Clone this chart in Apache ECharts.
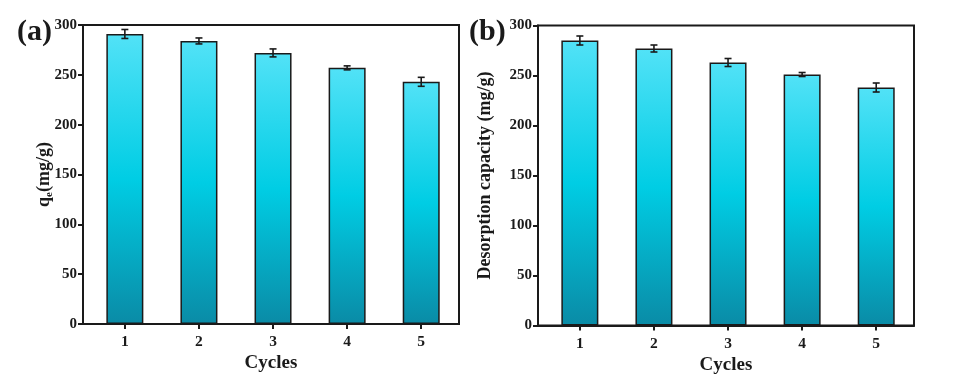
<!DOCTYPE html>
<html>
<head>
<meta charset="utf-8">
<script src="https://cdn.jsdelivr.net/npm/echarts@6/dist/echarts.min.js"></script>
<style>html,body{margin:0;padding:0;background:#fff;}#c{width:955px;height:383px;}</style>
</head>
<body>
<div id="c"></div>
<script>
const cycles = [1, 2, 3, 4, 5];
const adsorption = [291, 284, 272, 257, 243];
const adsorptionErr = [4.5, 3, 4, 2, 4.5];
const desorption = [285, 277, 263, 251, 238];
const desorptionErr = [4.5, 3.5, 4, 2, 4.5];
const yTicks = [0, 50, 100, 150, 200, 250, 300];

const FONT = "'Liberation Serif', 'Times New Roman', serif";
const INK = '#1a1a1a';

const barGradient = new echarts.graphic.LinearGradient(0, 0, 0, 1, [
  { offset: 0, color: '#52e2f7' },
  { offset: 0.5, color: '#00cde4' },
  { offset: 1, color: '#0a8ba6' }
]);

function xAxisCfg(idx) {
  return {
    gridIndex: idx, type: 'value', min: 0.435, max: 5.51,
    name: 'Cycles', nameLocation: 'middle', nameGap: 30, nameMoveOverlap: false,
    nameTextStyle: { fontFamily: FONT, fontWeight: 'bold', fontSize: 19, color: INK },
    axisLine: { show: true, onZero: false, lineStyle: { color: INK, width: 2 } },
    axisTick: { show: true, length: 5, lineStyle: { color: INK, width: 2 }, customValues: cycles },
    axisLabel: { fontFamily: FONT, fontWeight: 'bold', fontSize: 15.5, color: INK, margin: 10, customValues: cycles },
    splitLine: { show: false }
  };
}
function yAxisCfg(idx, name, gap, rich) {
  return {
    gridIndex: idx, type: 'value', min: yTicks[0], max: yTicks[yTicks.length - 1], interval: 50,
    name: name, nameLocation: 'middle', nameGap: gap, nameMoveOverlap: false,
    nameTextStyle: Object.assign({ fontFamily: FONT, fontWeight: 'bold', fontSize: 18, color: INK }, rich ? { rich: rich } : {}),
    axisLine: { show: true, lineStyle: { color: INK, width: 2 } },
    axisTick: { show: true, length: 5, lineStyle: { color: INK, width: 2 } },
    axisLabel: { fontFamily: FONT, fontWeight: 'bold', fontSize: 15, color: INK, margin: 6 },
    splitLine: { show: false }
  };
}
function errSeries(idx, vals, errs) {
  return {
    type: 'custom', xAxisIndex: idx, yAxisIndex: idx, z: 10,
    data: cycles.map((c, i) => [c, vals[i] - errs[i], vals[i] + errs[i]]),
    renderItem: function (params, api) {
      const lo = api.coord([api.value(0), api.value(1)]);
      const hi = api.coord([api.value(0), api.value(2)]);
      const cap = 3.5;
      const st = { stroke: INK, lineWidth: 1.6 };
      return {
        type: 'group', children: [
          { type: 'line', shape: { x1: lo[0], y1: lo[1], x2: hi[0], y2: hi[1] }, style: st },
          { type: 'line', shape: { x1: lo[0] - cap, y1: lo[1], x2: lo[0] + cap, y2: lo[1] }, style: st },
          { type: 'line', shape: { x1: hi[0] - cap, y1: hi[1], x2: hi[0] + cap, y2: hi[1] }, style: st }
        ]
      };
    }
  };
}
function barSeries(idx, vals) {
  return {
    type: 'bar', xAxisIndex: idx, yAxisIndex: idx, barWidth: 37,
    data: cycles.map((c, i) => [c, vals[i]]),
    itemStyle: { color: barGradient, borderColor: INK, borderWidth: 1.5 }
  };
}

const chart = echarts.init(document.getElementById('c'), null, { renderer: 'canvas' });
chart.setOption({
  animation: false,
  backgroundColor: '#fff',
  graphic: [
    { type: 'text', left: 17, top: 17, style: { text: '(a)', font: "bold 30px 'Liberation Serif', serif", fill: INK } },
    { type: 'text', left: 469, top: 17, style: { text: '(b)', font: "bold 30px 'Liberation Serif', serif", fill: INK } }
  ],
  grid: [
    { left: 83, top: 25, width: 376, height: 299, show: true, borderColor: INK, borderWidth: 2, backgroundColor: 'transparent' },
    { left: 538, top: 25.5, width: 376, height: 300, show: true, borderColor: INK, borderWidth: 2, backgroundColor: 'transparent' }
  ],
  xAxis: [xAxisCfg(0), xAxisCfg(1)],
  yAxis: [
    yAxisCfg(0, '{q|q}{s|e}{q|(mg/g)}', 28, {
      q: { fontFamily: FONT, fontWeight: 'bold', fontSize: 18, color: INK, verticalAlign: 'middle', lineHeight: 22 },
      s: { fontFamily: FONT, fontWeight: 'bold', fontSize: 11, color: INK, verticalAlign: 'bottom', lineHeight: 22 }
    }),
    yAxisCfg(1, 'Desorption capacity (mg/g)', 44)
  ],
  series: [
    barSeries(0, adsorption), errSeries(0, adsorption, adsorptionErr),
    barSeries(1, desorption), errSeries(1, desorption, desorptionErr)
  ]
});
</script>
</body>
</html>
